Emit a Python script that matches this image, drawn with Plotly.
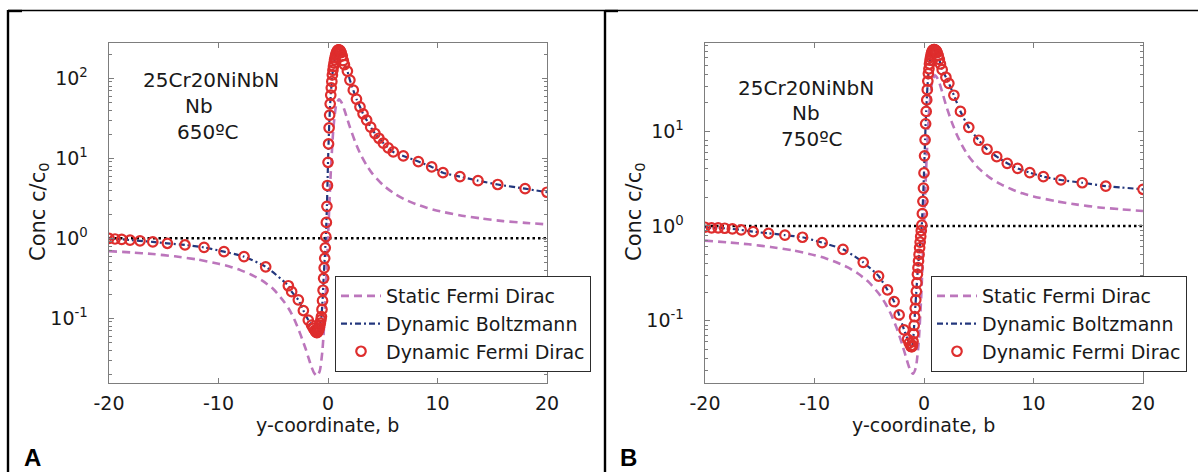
import plotly.graph_objects as go

W, H = 1198, 472

# ---------------- data ----------------
# Static Fermi Dirac curves (shared y-coordinate grid)
static_x = [-20, -18, -16, -14, -12, -10, -9, -8, -7, -6, -5, -4, -3.5, -3, -2.5, -2,
            -1.75, -1.5, -1.25, -1, -0.75, -0.5, -0.25, 0, 0.25, 0.5, 0.75, 1, 1.25,
            1.5, 1.75, 2, 2.5, 3, 3.5, 4, 5, 6, 7, 8, 9, 10, 12, 14, 16, 18, 20]
a_static_c = [0.69, 0.665, 0.635, 0.595, 0.545, 0.48, 0.445, 0.40, 0.35, 0.295, 0.232,
              0.16, 0.126, 0.092, 0.062, 0.04, 0.031, 0.0245, 0.0205, 0.019, 0.022,
              0.041, 0.15, 1.0, 6.56, 24.5, 46.5, 54.6, 49.5, 40.1, 31.3, 24.5, 15.8,
              11.0, 8.27, 6.56, 4.66, 3.66, 3.06, 2.68, 2.41, 2.21, 1.94, 1.77, 1.64,
              1.56, 1.49]
b_static_c = [0.70, 0.672, 0.64, 0.60, 0.553, 0.492, 0.456, 0.414, 0.367, 0.313, 0.252,
              0.185, 0.150, 0.116, 0.084, 0.0565, 0.0453, 0.0362, 0.030, 0.0275, 0.0318,
              0.0565, 0.185, 1.0, 5.6, 18.5, 33.5, 39.0, 36.0, 30.0, 24.0, 19.0, 12.8,
              9.2, 7.0, 5.6, 4.05, 3.24, 2.76, 2.44, 2.21, 2.05, 1.83, 1.68, 1.57, 1.50,
              1.44]

# Dynamic curves: y-coordinates of the computed points
core_x = [-1.2, -1.15, -1.1, -1.05, -1.0, -0.95, -0.9, -0.85, -0.8, -0.75, -0.7, -0.65,
          -0.6, -0.55, -0.5, -0.45, -0.4, -0.35, -0.3, -0.25, -0.2, -0.15, -0.1, -0.05,
          0.0, 0.05, 0.1, 0.15, 0.2, 0.25, 0.3, 0.35, 0.4, 0.45, 0.5, 0.55, 0.6, 0.65,
          0.7, 0.75, 0.8, 0.85, 0.9, 0.95, 1.0, 1.05, 1.1, 1.15, 1.2, 1.3, 1.4, 1.5]

a_left_x = [-20.0, -19.45, -18.84, -18.08, -17.17, -16.0, -14.67, -13.06, -11.32, -9.5,
            -7.67, -5.69, -3.62, -3.32, -2.71, -2.25, -1.8, -1.5, -1.34]
a_right_x = [1.77, 2.0, 2.31, 2.6, 2.92, 3.2, 3.53, 3.9, 4.29, 4.65, 5.05, 5.5, 5.96,
             6.88, 8.25, 9.47, 10.5, 12.05, 13.7, 15.5, 18.0, 20.0]
a_dyn_fd = [1.0, 0.98, 0.97, 0.95, 0.93, 0.90, 0.866, 0.825, 0.77, 0.68, 0.59, 0.44,
            0.255, 0.215, 0.17, 0.125, 0.095, 0.082, 0.075,
            0.0708, 0.0692, 0.0676, 0.0668, 0.0661, 0.0676, 0.0692, 0.0724, 0.0759,
            0.0813, 0.0871, 0.0955, 0.105, 0.129, 0.166, 0.224, 0.316, 0.427, 0.562,
            0.759, 1.05, 1.58, 2.51, 4.57, 8.91, 15.1, 24.0, 34.7, 47.9, 61.7, 75.9,
            91.2, 110, 126, 141, 155, 170, 182, 195, 204, 214, 219, 224, 226, 226, 224,
            221, 214, 209, 191, 166, 148,
            123, 95, 71, 55, 44, 36, 30, 24.5, 20.4, 17.8, 15.5, 13.5, 12.0, 10.7, 9.1,
            7.8, 6.6, 5.9, 5.25, 4.7, 4.17, 3.76]
a_dyn_boltz = list(a_dyn_fd)  # the Boltzmann line runs through the circles

b_left_x = [-20.0, -19.4, -18.8, -18.2, -17.5, -16.7, -15.6, -14.2, -12.7, -11.1, -9.3,
            -7.4, -5.55, -4.15, -3.33, -2.73, -2.27, -1.82, -1.5, -1.35]
b_right_x = [1.66, 2.0, 2.27, 2.73, 3.33, 4.09, 5.0, 5.76, 6.64, 7.6, 8.55, 9.66, 10.9,
             12.5, 14.45, 16.6, 20.0]
b_dyn_fd = [0.97, 0.955, 0.955, 0.946, 0.93, 0.908, 0.871, 0.837, 0.80, 0.76, 0.667,
            0.567, 0.413, 0.296, 0.211, 0.159, 0.115, 0.080, 0.064, 0.058,
            0.0537, 0.0531, 0.0531, 0.0550, 0.0603, 0.0724, 0.0891, 0.110, 0.135, 0.166,
            0.204, 0.251, 0.309, 0.363, 0.427, 0.501, 0.589, 0.676, 0.776, 0.891, 1.02,
            1.35, 1.82, 2.51, 3.63, 5.50, 8.13, 12.0, 16.2, 21.4, 27.5, 33.9, 40.7, 45.7,
            51.3, 56.2, 60.3, 64.6, 67.6, 70.0, 71.6, 72.4, 72.9, 72.8, 72.4, 71.6, 70.8,
            69.2, 67.6, 63.1, 57.5, 51.3,
            44.7, 37.2, 32.1, 24.0, 16.2, 11.0, 8.04, 6.46, 5.40, 4.59, 4.06, 3.66, 3.32,
            3.06, 2.86, 2.64, 2.44]
b_dyn_boltz = list(b_dyn_fd)

ref_x = [-20, 20]
ref_c = [1, 1]

x_tickvals = [-20, -10, 0, 10, 20]
x_ticktext = ["-20", "-10", "0", "10", "20"]
a_ytickvals = [0.1, 1, 10, 100]
a_yticktext = ["10<sup>-1</sup>", "10<sup>0</sup>", "10<sup>1</sup>", "10<sup>2</sup>"]
a_minor = [0.02, 0.03, 0.04, 0.05, 0.06, 0.07, 0.08, 0.09, 0.2, 0.3, 0.4, 0.5, 0.6, 0.7,
           0.8, 0.9, 2, 3, 4, 5, 6, 7, 8, 9, 20, 30, 40, 50, 60, 70, 80, 90, 200]
b_ytickvals = [0.1, 1, 10]
b_yticktext = ["10<sup>-1</sup>", "10<sup>0</sup>", "10<sup>1</sup>"]
b_minor = [0.03, 0.04, 0.05, 0.06, 0.07, 0.08, 0.09, 0.2, 0.3, 0.4, 0.5, 0.6, 0.7, 0.8,
           0.9, 2, 3, 4, 5, 6, 7, 8, 20, 30, 40, 50, 60, 70, 80]

series_names = ["Static Fermi Dirac", "Dynamic Boltzmann", "Dynamic Fermi Dirac"]
panel_text = [["25Cr20NiNbN", "Nb", "650ºC"], ["25Cr20NiNbN", "Nb", "750ºC"]]
panel_letters = ["A", "B"]

# ---------------- styling ----------------
FONT = "DejaVu Sans, Liberation Sans, Arial, sans-serif"
LETTER_FONT = "Liberation Sans, Arial, sans-serif"
TXT = "rgb(25,25,25)"
AXC = "rgb(125,125,125)"
PINK = "rgb(188,118,188)"
NAVY = "rgb(35,55,125)"
RED = "rgb(222,45,45)"


def px(x):
    return x / W


def py(y):
    return 1 - y / H


fig = go.Figure()

panels = [
    dict(xa="x", ya="y", leg="legend", sx=static_x, sc=a_static_c,
         dx=a_left_x + core_x + a_right_x, fd=a_dyn_fd, bz=a_dyn_boltz),
    dict(xa="x2", ya="y2", leg="legend2", sx=static_x, sc=b_static_c,
         dx=b_left_x + core_x + b_right_x, fd=b_dyn_fd, bz=b_dyn_boltz),
]

for p in panels:
    fig.add_trace(go.Scatter(x=ref_x, y=ref_c, mode="lines", showlegend=False,
                             line=dict(color="black", width=2.6, dash="2.5px,3px"),
                             xaxis=p["xa"], yaxis=p["ya"], hoverinfo="skip"))
    fig.add_trace(go.Scatter(x=p["sx"], y=p["sc"], mode="lines", name=series_names[0],
                             line=dict(color=PINK, width=2.6, dash="8px,5px",
                                       shape="spline", smoothing=0.6),
                             xaxis=p["xa"], yaxis=p["ya"], legend=p["leg"]))
    fig.add_trace(go.Scatter(x=p["dx"], y=p["bz"], mode="lines", name=series_names[1],
                             line=dict(color=NAVY, width=2.2, dash="6px,3px,2px,3px",
                                       shape="spline", smoothing=0.6),
                             xaxis=p["xa"], yaxis=p["ya"], legend=p["leg"]))
    fig.add_trace(go.Scatter(x=p["dx"], y=p["fd"], mode="markers", name=series_names[2],
                             marker=dict(symbol="circle-open", size=9.5, color=RED,
                                         line=dict(width=2.2, color=RED)),
                             xaxis=p["xa"], yaxis=p["ya"], legend=p["leg"]))

ydom = [py(383), py(43)]


def xaxis(dom, anchor):
    return dict(domain=dom, anchor=anchor, range=[-20, 20], tickvals=x_tickvals,
                ticktext=x_ticktext, ticks="inside", ticklen=5, tickwidth=1,
                tickcolor=AXC, showline=True, linecolor=AXC, linewidth=1.4,
                mirror="ticks", showgrid=False, zeroline=False, automargin=False,
                ticklabelstandoff=3,
                tickfont=dict(family=FONT, size=19, color=TXT))


def yaxis(anchor, rng, tv, tt, minor):
    return dict(domain=ydom, anchor=anchor, type="log", range=rng, tickvals=tv,
                ticktext=tt, ticks="inside", ticklen=5, tickwidth=1, tickcolor=AXC,
                minor=dict(tickmode="array", tickvals=minor, ticks="inside",
                           ticklen=3, tickwidth=1, tickcolor=AXC, showgrid=False),
                showline=True, linecolor=AXC, linewidth=1.4, mirror="ticks",
                showgrid=False, zeroline=False, automargin=False,
                ticklabelstandoff=16,
                tickfont=dict(family=FONT, size=19, color=TXT))


leg_common = dict(xanchor="left", yanchor="top", bgcolor="white",
                  bordercolor="rgb(45,45,45)", borderwidth=1, itemwidth=40,
                  tracegroupgap=0, traceorder="normal",
                  font=dict(family=FONT, size=19, color=TXT))

fig.update_layout(
    width=W, height=H, margin=dict(l=0, r=0, t=0, b=0),
    paper_bgcolor="white", plot_bgcolor="white",
    xaxis=xaxis([px(109), px(547)], "y"),
    yaxis=yaxis("x", [-1.809, 2.441], a_ytickvals, a_yticktext, a_minor),
    xaxis2=xaxis([px(705), px(1143)], "y2"),
    yaxis2=yaxis("x2", [-1.658, 1.932], b_ytickvals, b_yticktext, b_minor),
    legend=dict(x=px(335), y=py(276), **leg_common),
    legend2=dict(x=px(931), y=py(276), **leg_common),
)

ann = []
offsets = [0, 596]
text_pos = [[(211, 80), (199, 106), (208, 132)], [(806, 88), (806, 113), (812, 139)]]
letter_x = [32, 628]
for i, off in enumerate(offsets):
    for (tx, ty), t in zip(text_pos[i], panel_text[i]):
        ann.append(dict(x=px(tx), y=py(ty), xref="paper", yref="paper", text=t,
                        showarrow=False, xanchor="center", yanchor="middle",
                        font=dict(family=FONT, size=20, color=TXT)))
    # axis titles
    ann.append(dict(x=px(327 + off), y=py(425), xref="paper", yref="paper",
                    text="y-coordinate, b", showarrow=False, xanchor="center",
                    yanchor="middle", font=dict(family=FONT, size=19, color=TXT)))
    ann.append(dict(x=px(39 + off), y=py(212), xref="paper", yref="paper",
                    text="Conc c/c<sub>0</sub>", textangle=-90, showarrow=False,
                    xanchor="center", yanchor="middle",
                    font=dict(family=FONT, size=21, color=TXT)))
    ann.append(dict(x=px(letter_x[i]), y=py(457), xref="paper", yref="paper",
                    text="<b>" + panel_letters[i] + "</b>", showarrow=False,
                    xanchor="center", yanchor="middle",
                    font=dict(family=LETTER_FONT, size=24, color="black")))
fig.update_layout(annotations=ann)

shapes = [
    dict(type="line", xref="paper", yref="paper", x0=px(8), x1=1, y0=py(10.5),
         y1=py(10.5), line=dict(color="black", width=1.3)),
    dict(type="line", xref="paper", yref="paper", x0=px(8), x1=px(8), y0=py(10),
         y1=0, line=dict(color="black", width=2.4)),
    dict(type="line", xref="paper", yref="paper", x0=px(605), x1=px(605), y0=py(10),
         y1=0, line=dict(color="black", width=2.4)),
    dict(type="line", xref="paper", yref="paper", x0=px(8), x1=px(22), y0=py(11),
         y1=py(11), line=dict(color="black", width=2.4)),
    dict(type="line", xref="paper", yref="paper", x0=px(605), x1=px(618), y0=py(11),
         y1=py(11), line=dict(color="black", width=2.4)),
]
fig.update_layout(shapes=shapes)

fig.write_html("out.html",
               config={"displayModeBar": False, "staticPlot": True},
               post_script="document.body.style.margin='0';"
                           "document.body.style.padding='0';"
                           "document.body.style.overflow='hidden';")
